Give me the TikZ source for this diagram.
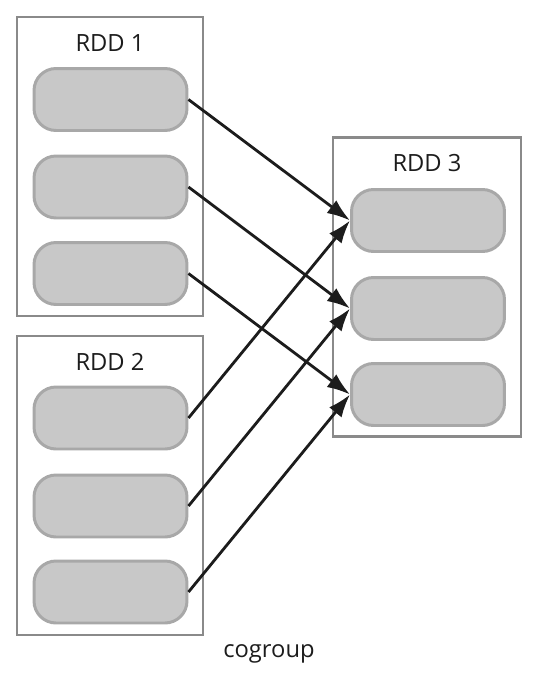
\documentclass[tikz,border=0pt]{standalone}
\usepackage{fontspec}
\setmainfont{Open Sans}
\usepackage{xcolor}
\usetikzlibrary{arrows.meta}
\definecolor{pillfill}{HTML}{C8C8C8}
\definecolor{pillline}{HTML}{A8A8A8}
\definecolor{boxline}{HTML}{8A8A8A}
\definecolor{inkdark}{HTML}{1C1C1C}

\begin{document}
\begin{tikzpicture}[x=0.02cm,y=-0.02cm,
  rddbox/.style={draw=boxline,line width=1.4pt,minimum width=3.72cm,minimum height=5.98cm,inner sep=0pt},
  pill/.style={draw=pillline,fill=pillfill,line width=1.7pt,rounded corners=0.44cm,minimum width=3.06cm,minimum height=1.24cm,inner sep=0pt},
  rddlabel/.style={text=inkdark,font=\fontsize{13.5}{16}\selectfont},
  arr/.style={draw=inkdark,line width=1.6pt,-{Latex[length=0.46cm,width=0.32cm]}}]
  \useasboundingbox (0,0) rectangle (541,674);

  % the three containers
  \node[rddbox] (rdd1) at (110,166.5) {};
  \node[rddbox] (rdd2) at (110,485.5) {};
  \node[rddbox,minimum width=3.76cm] (rdd3) at (427,287) {};
  \node[rddlabel] (l1) at (110,43) {RDD 1};
  \node[rddlabel] (l2) at (110,362) {RDD 2};
  \node[rddlabel] (l3) at (427,163) {RDD 3};

  % partitions
  \foreach \i/\ya/\yb/\yc in {1/99.5/418/220.5, 2/187/506/308.5, 3/273.5/592/394.5}{
    \node[pill] (a\i) at (110.5,\ya) {};
    \node[pill] (b\i) at (110.5,\yb) {};
    \node[pill] (c\i) at (428,\yc) {};
  }

  \foreach \i in {1,2,3}{
    \draw[arr] (a\i.east) -- (c\i.west);
    \draw[arr] (b\i.east) -- (c\i.west);
  }

  \node[rddlabel] (op) at (269,654) {cogroup};
\end{tikzpicture}
\end{document}
